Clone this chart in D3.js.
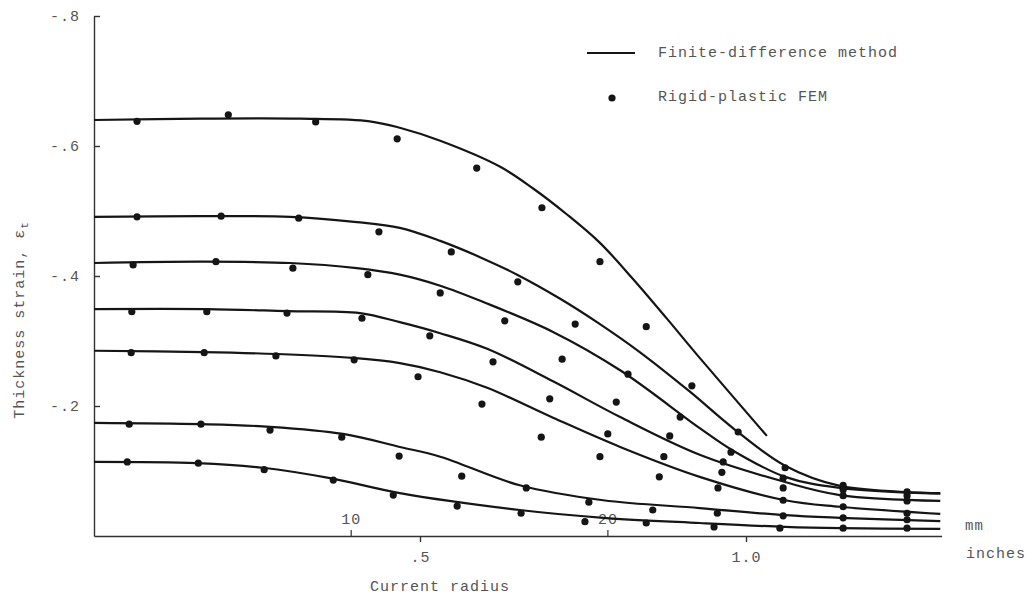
<!DOCTYPE html>
<html><head><meta charset="utf-8">
<script src="https://cdn.jsdelivr.net/npm/d3@7"></script>
<style>
body{margin:0;background:#fff}
text{font-family:"Liberation Mono","DejaVu Sans Mono",monospace;fill:#555;letter-spacing:1px}
</style>
</head><body><svg id="c" width="1032" height="600"></svg>
<script>
// Finite-difference curves (radius in inches, thickness strain)
const fd1X = [0, 0.163, 0.316, 0.423, 0.469, 0.531, 0.623, 0.673, 0.725, 0.776, 0.827, 0.879, 0.929, 1.032];
const fd1Y = [-0.640, -0.642, -0.642, -0.638, -0.628, -0.608, -0.568, -0.535, -0.495, -0.451, -0.395, -0.334, -0.274, -0.154];
const fd2X = [0, 0.163, 0.301, 0.403, 0.469, 0.531, 0.592, 0.649, 0.715, 0.776, 0.837, 0.914, 0.980, 1.060, 1.144, 1.298];
const fd2Y = [-0.491, -0.492, -0.491, -0.483, -0.474, -0.454, -0.429, -0.402, -0.365, -0.326, -0.283, -0.222, -0.166, -0.108, -0.077, -0.066];
const fd3X = [0, 0.163, 0.301, 0.403, 0.469, 0.531, 0.597, 0.704, 0.807, 0.929, 0.979, 1.060, 1.144, 1.298];
const fd3Y = [-0.420, -0.422, -0.420, -0.412, -0.402, -0.385, -0.360, -0.314, -0.255, -0.166, -0.132, -0.091, -0.074, -0.065];
const fd4X = [0, 0.173, 0.296, 0.408, 0.469, 0.531, 0.603, 0.704, 0.807, 0.929, 1.060, 1.144, 1.298];
const fd4Y = [-0.349, -0.349, -0.346, -0.343, -0.329, -0.312, -0.288, -0.238, -0.183, -0.125, -0.083, -0.063, -0.054];
const fd5X = [0, 0.167, 0.281, 0.397, 0.469, 0.531, 0.603, 0.704, 0.807, 0.929, 1.060, 1.144, 1.298];
const fd5Y = [-0.285, -0.283, -0.280, -0.274, -0.266, -0.252, -0.228, -0.182, -0.137, -0.091, -0.055, -0.045, -0.034];
const fd6X = [0, 0.163, 0.270, 0.382, 0.469, 0.531, 0.653, 0.781, 0.929, 1.060, 1.144, 1.298];
const fd6Y = [-0.174, -0.172, -0.168, -0.157, -0.137, -0.122, -0.078, -0.055, -0.043, -0.032, -0.028, -0.023];
const fd7X = [0, 0.158, 0.259, 0.362, 0.469, 0.653, 0.781, 0.929, 1.060, 1.144, 1.298];
const fd7Y = [-0.114, -0.112, -0.105, -0.089, -0.066, -0.040, -0.028, -0.020, -0.014, -0.012, -0.011];

// Rigid-plastic FEM points
const fem1X = [0.066, 0.206, 0.340, 0.465, 0.587, 0.687, 0.776, 0.847, 0.917, 0.988];
const fem1Y = [-0.638, -0.648, -0.637, -0.611, -0.566, -0.505, -0.422, -0.322, -0.231, -0.160];
const fem2X = [0.066, 0.195, 0.314, 0.437, 0.548, 0.650, 0.738, 0.819, 0.899, 0.977, 1.060, 1.149, 1.247];
const fem2Y = [-0.491, -0.492, -0.489, -0.468, -0.437, -0.391, -0.326, -0.249, -0.183, -0.129, -0.105, -0.078, -0.068];
const fem3X = [0.060, 0.187, 0.305, 0.420, 0.531, 0.630, 0.718, 0.801, 0.883, 0.965, 1.057, 1.149, 1.247];
const fem3Y = [-0.417, -0.422, -0.412, -0.402, -0.374, -0.331, -0.272, -0.206, -0.154, -0.114, -0.089, -0.071, -0.062];
const fem4X = [0.058, 0.173, 0.296, 0.411, 0.515, 0.612, 0.699, 0.788, 0.874, 0.963, 1.057, 1.149, 1.247];
const fem4Y = [-0.345, -0.345, -0.343, -0.335, -0.308, -0.268, -0.211, -0.157, -0.122, -0.098, -0.074, -0.062, -0.054];
const fem5X = [0.057, 0.169, 0.279, 0.399, 0.497, 0.595, 0.686, 0.776, 0.867, 0.957, 1.057, 1.149, 1.247];
const fem5Y = [-0.282, -0.282, -0.277, -0.271, -0.245, -0.203, -0.152, -0.122, -0.091, -0.074, -0.055, -0.045, -0.035];
const fem6X = [0.054, 0.164, 0.270, 0.380, 0.468, 0.564, 0.663, 0.759, 0.857, 0.956, 1.057, 1.149, 1.247];
const fem6Y = [-0.172, -0.172, -0.163, -0.152, -0.123, -0.092, -0.074, -0.052, -0.040, -0.035, -0.031, -0.028, -0.025];
const fem7X = [0.051, 0.160, 0.261, 0.367, 0.459, 0.557, 0.655, 0.753, 0.847, 0.951, 1.052, 1.149, 1.247];
const fem7Y = [-0.114, -0.112, -0.102, -0.086, -0.063, -0.046, -0.035, -0.022, -0.020, -0.014, -0.012, -0.012, -0.012];

const yTicks = [-0.8, -0.6, -0.4, -0.2];
const yTickLabels = ["-.8", "-.6", "-.4", "-.2"];
const inchTicks = [0.5, 1.0];
const inchTickLabels = [".5", "1.0"];
const mmTicks = [10, 20];
const legendLabels = ["Finite-difference method", "Rigid-plastic FEM"];

const fdSeries = [[fd1X,fd1Y],[fd2X,fd2Y],[fd3X,fd3Y],[fd4X,fd4Y],[fd5X,fd5Y],[fd6X,fd6Y],[fd7X,fd7Y]];
const femSeries = [[fem1X,fem1Y],[fem2X,fem2Y],[fem3X,fem3Y],[fem4X,fem4Y],[fem5X,fem5Y],[fem6X,fem6Y],[fem7X,fem7Y]];

const svg = d3.select("#c");
const x = d3.scaleLinear().domain([0, 1.3]).range([94, 94 + 1.3 * 652]);
const xMm = d3.scaleLinear().domain([0, 1.3 * 25.4]).range(x.range());
const y = d3.scaleLinear().domain([0, -0.8]).range([536, 16]);

const ink = "#151515";

// Y axis
const yAxis = svg.append("g").attr("transform", `translate(${x(0)},0)`)
  .call(d3.axisLeft(y).tickValues(yTicks).tickSize(-6).tickSizeOuter(0).tickPadding(20)
    .tickFormat((d, i) => yTickLabels[i]));
yAxis.select(".domain").attr("stroke", "#333").attr("stroke-width", 1.4);
yAxis.selectAll(".tick line").attr("stroke", "#333").attr("stroke-width", 1.4);
yAxis.selectAll(".tick text").attr("font-size", 15).style("font-family", "Liberation Mono").attr("fill", "#555").attr("x", -14);

// X axis (inches, below)
const xAxis = svg.append("g").attr("transform", `translate(0,${y(0)})`)
  .call(d3.axisBottom(x).tickValues(inchTicks).tickSize(6).tickSizeOuter(0).tickPadding(9)
    .tickFormat((d, i) => inchTickLabels[i]));
xAxis.select(".domain").attr("stroke", "#333").attr("stroke-width", 1.4);
xAxis.selectAll(".tick line").attr("stroke", "#333").attr("stroke-width", 1.4);
xAxis.selectAll(".tick text").attr("font-size", 15).style("font-family", "Liberation Mono").attr("fill", "#555");

// X axis (mm, above)
const mmAxis = svg.append("g").attr("transform", `translate(0,${y(0)})`)
  .call(d3.axisTop(xMm).tickValues(mmTicks).tickSize(6).tickSizeOuter(0).tickPadding(6)
    .tickFormat(d => String(d)));
mmAxis.select(".domain").remove();
mmAxis.selectAll(".tick line").attr("stroke", "#333").attr("stroke-width", 1.2);
mmAxis.selectAll(".tick text").attr("font-size", 15).style("font-family", "Liberation Mono").attr("fill", "#555");

svg.append("text").attr("x", 965).attr("y", 530).attr("font-size", 14).text("mm");
svg.append("text").attr("x", 966).attr("y", 558).attr("font-size", 15).text("inches");
svg.append("text").attr("x", 440).attr("y", 591).attr("text-anchor", "middle").attr("font-size", 15).text("Current radius");

const yl = svg.append("text").attr("transform", "translate(24,320) rotate(-90)")
  .attr("text-anchor", "middle").attr("font-size", 15);
yl.append("tspan").text("Thickness strain, \u03b5");
yl.append("tspan").attr("dy", 4).attr("font-size", 11).text("t");

// Curves
const line = d3.line().x(d => x(d[0])).y(d => y(d[1])).curve(d3.curveCatmullRom.alpha(0.5));
svg.append("g").selectAll("path").data(fdSeries).join("path")
  .attr("d", s => line(s[0].map((v, i) => [v, s[1][i]])))
  .attr("fill", "none").attr("stroke", ink).attr("stroke-width", 2.2);

// FEM points
const pts = femSeries.flatMap(s => s[0].map((v, i) => [v, s[1][i]]));
svg.append("g").selectAll("circle").data(pts).join("circle")
  .attr("cx", d => x(d[0])).attr("cy", d => y(d[1])).attr("r", 3.6).attr("fill", ink);

// Legend
svg.append("line").attr("x1", 587).attr("x2", 635).attr("y1", 53).attr("y2", 53)
  .attr("stroke", ink).attr("stroke-width", 2.2);
svg.append("text").attr("x", 658).attr("y", 57).attr("font-size", 15).attr("letter-spacing", "0.5px").text(legendLabels[0]);
svg.append("circle").attr("cx", 612).attr("cy", 98).attr("r", 3.6).attr("fill", ink);
svg.append("text").attr("x", 658).attr("y", 101).attr("font-size", 15).text(legendLabels[1]);
</script>
</body></html>
